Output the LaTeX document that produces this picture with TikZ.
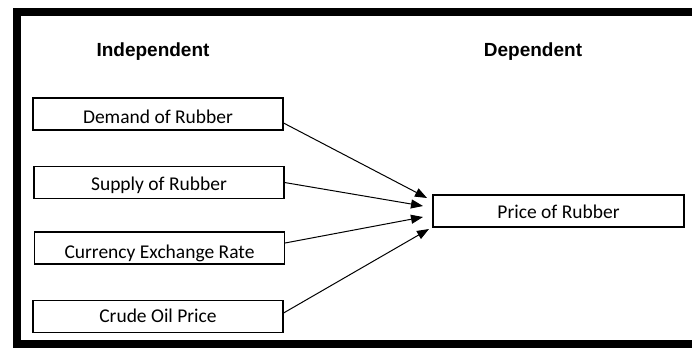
\documentclass[tikz,border=0pt]{standalone}
\usepackage{fontspec}
\setmainfont{Carlito}
\newfontfamily\headfont{Liberation Sans}
\usetikzlibrary{arrows.meta}
\begin{document}
\begin{tikzpicture}[x=1pt,y=1pt,
  varbox/.style={draw=black, line width=1.1pt, minimum width=250pt, minimum height=32pt,
    inner sep=0pt, text depth=0pt, font=\fontsize{19.5}{22}\selectfont},
  heading/.style={anchor=base, font=\headfont\bfseries\fontsize{19}{22}\selectfont},
  arr/.style={line width=1pt, -{Triangle[length=12pt,width=9pt]}}]
\useasboundingbox (0,0) rectangle (692,-349);
% outer frame
\draw[line width=8pt, line join=miter] (692,-12) -- (17,-12) -- (17,-344) -- (692,-344);
% headings
\node[heading] (hind) at (153,-56.5) {Independent};
\node[heading] (hdep) at (533,-56) {Dependent};
% boxes
\node[varbox, text height=18pt] (dem) at (158,-114) {Demand of Rubber};
\node[varbox, text height=15pt] (sup) at (159,-182.5) {Supply of Rubber};
\node[varbox, text height=21pt] (cur) at (159.5,-248) {Currency Exchange Rate};
\node[varbox, text height=11pt] (oil) at (158,-316.5) {Crude Oil Price};
\node[varbox, minimum width=251pt, text height=14pt] (pri) at (558.5,-211) {Price of Rubber};
% arrow tips
\coordinate (t1) at (427,-198);
\coordinate (t2) at (423,-206);
\coordinate (t3) at (423,-217);
\coordinate (t4) at (429,-229);
\draw[arr] ([yshift=-9pt]dem.east) -- (t1);
\draw[arr] (sup.east) -- (t2);
\draw[arr] ([yshift=5pt]cur.east) -- (t3);
\draw[arr] ([yshift=3.5pt]oil.east) -- (t4);
\end{tikzpicture}
\end{document}
